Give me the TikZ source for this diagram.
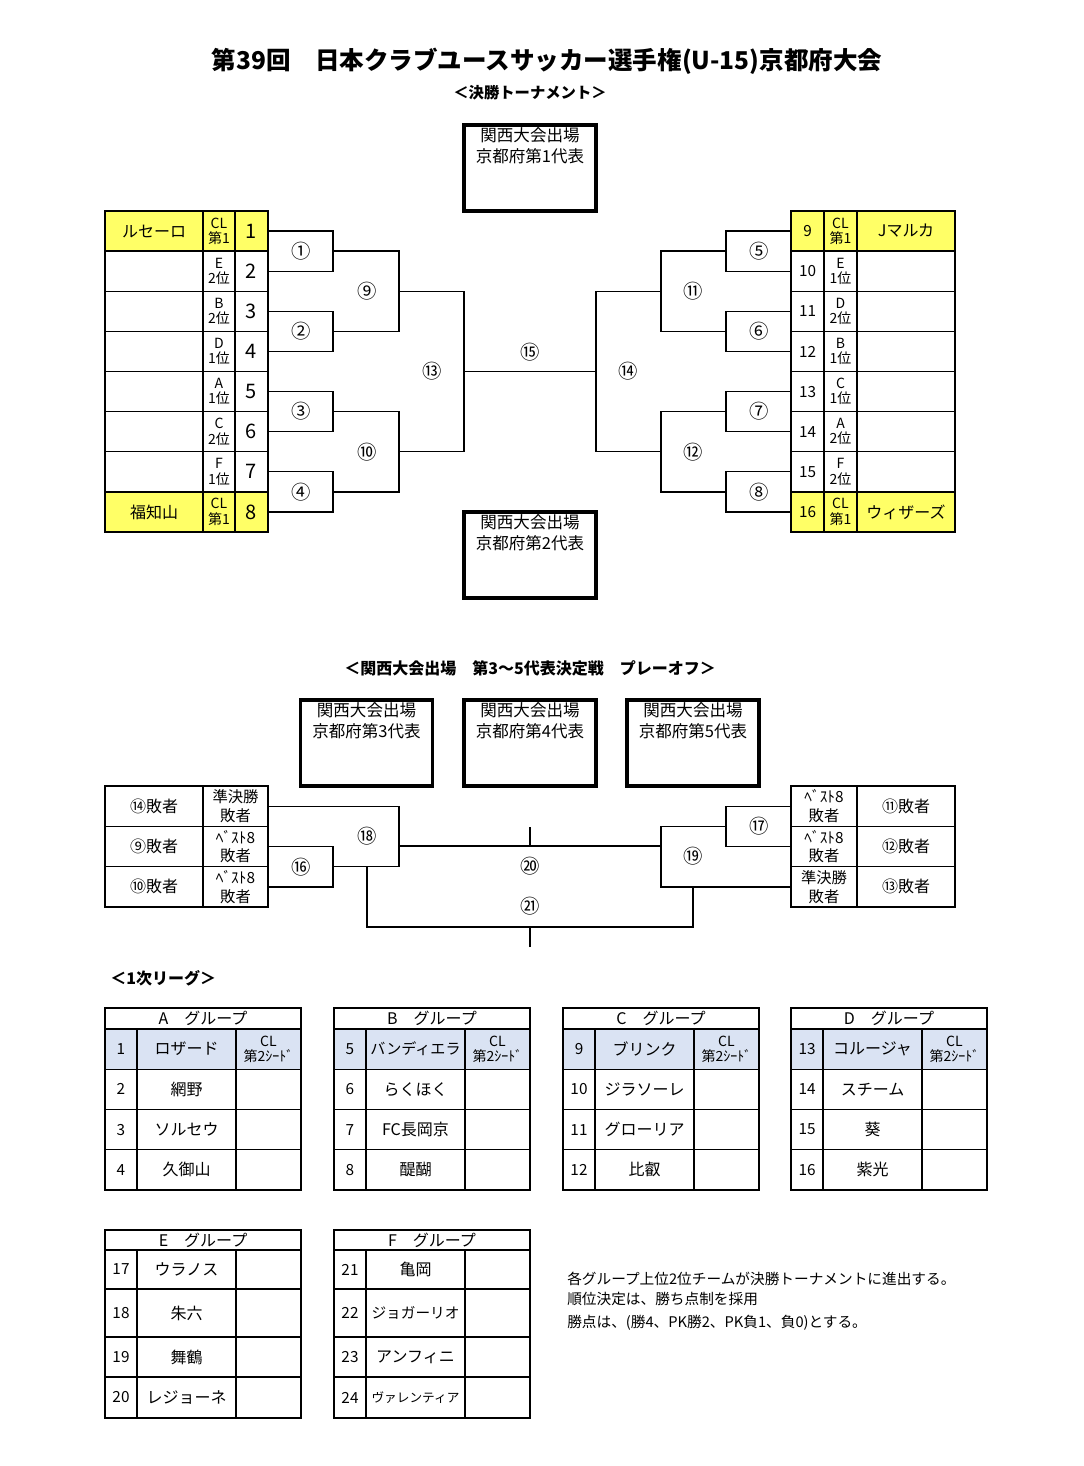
\documentclass[tikz,border=0pt]{standalone}
\usepackage{fontspec}
\setmainfont{Noto Sans CJK JP}
\usetikzlibrary{positioning,calc}

\definecolor{seedyellow}{HTML}{FFFF66}
\definecolor{seedblue}{HTML}{DAE3F3}

\tikzset{
  bracket/.style={line width=1pt},
  grid/.style={line width=1.1pt},
  repbox/.style={line width=2.3pt},
  team/.style={inner sep=0pt, font=\fontsize{12}{14}\selectfont},
  seedno/.style={inner sep=0pt, font=\fontsize{15}{16}\selectfont},
  seednosm/.style={inner sep=0pt, font=\fontsize{11.5}{13}\selectfont},
  grpno/.style={inner sep=0pt, font=\fontsize{11.5}{13}\selectfont},
  slot/.style={inner sep=0pt, align=center, font=\fontsize{10.5}{11.5}\selectfont},
  loser/.style={inner sep=0pt, align=center, font=\fontsize{11.5}{14}\selectfont},
  game/.style={inner sep=0pt, font=\fontsize{14.5}{16}\selectfont},
  reptext/.style={inner sep=0pt, anchor=north, align=center, font=\fontsize{12.4}{15.8}\selectfont},
  heading/.style={inner sep=0pt, font=\bfseries\fontsize{12}{14}\selectfont},
  note/.style={inner sep=0pt, anchor=west, font=\fontsize{11}{13}\selectfont},
}

\begin{document}
\begin{tikzpicture}[x=0.75pt,y=-0.75pt]
\fill[white] (0,0) rectangle (1084,1466);
\useasboundingbox (0,0) rectangle (1084,1466);

% titles
\node[inner sep=0pt, font=\bfseries\fontsize{18.4}{22}\selectfont] (title) at (547,61) {第39回　日本クラブユースサッカー選手権(U-15)京都府大会};
\node[heading, font=\bfseries\fontsize{11.5}{13}\selectfont] (final) at (530,93) {＜決勝トーナメント＞};

% representative boxes
\foreach \nm/\cx/\yt/\k in {rep1/530/125/1, rep2/530/512/2, rep3/366.5/700/3, rep4/530/700/4, rep5/693/700/5} {
  \draw[repbox] ({\cx-66},\yt) rectangle ({\cx+66},{\yt+86});
  \node[reptext] (\nm) at (\cx,{\yt+2}) {関西大会出場\\京都府第\k 代表};
}

% left seeded table
\foreach \i/\tm/\sl/\fc in {1/ルセーロ/CL\\第1/seedyellow, 2//E\\2位/white, 3//B\\2位/white, 4//D\\1位/white, 5//A\\1位/white, 6//C\\2位/white, 7//F\\1位/white, 8/福知山/CL\\第1/seedyellow} {
  \pgfmathsetmacro{\yt}{211+(\i-1)*40.125}
  \pgfmathsetmacro{\yc}{\yt+20.06}
  \filldraw[grid, fill=\fc] (105,\yt) rectangle (268,{\yt+40.125});
  \draw[grid] (203,\yt) -- ++(0,40.125) (235,\yt) -- ++(0,40.125);
  \node[team] (lt\i) at (154,\yc) {\tm};
  \node[slot] (ls\i) at (219,\yc) {\sl};
  \node[seedno] (ln\i) at (251.5,\yc) {\i};
  \coordinate (le\i) at (268,\yc);
}

% right seeded table
\foreach \i/\tm/\sl/\fc in {9/Jマルカ/CL\\第1/seedyellow, 10//E\\1位/white, 11//D\\2位/white, 12//B\\1位/white, 13//C\\1位/white, 14//A\\2位/white, 15//F\\2位/white, 16/ウィザーズ/CL\\第1/seedyellow} {
  \pgfmathsetmacro{\yt}{211+(\i-9)*40.125}
  \pgfmathsetmacro{\yc}{\yt+20.06}
  \filldraw[grid, fill=\fc] (791,\yt) rectangle (955,{\yt+40.125});
  \draw[grid] (824,\yt) -- ++(0,40.125) (857,\yt) -- ++(0,40.125);
  \node[seednosm] (rn\i) at (807.5,\yc) {\i};
  \node[slot] (rs\i) at (840.5,\yc) {\sl};
  \node[team] (rt\i) at (906,\yc) {\tm};
  \coordinate (re\i) at (791,\yc);
}

% first round
\foreach \a/\b/\k/\lab in {1/2/1/①, 3/4/2/②, 5/6/3/③, 7/8/4/④} {
  \draw[bracket] (le\a) -- ++(65,0) |- (le\b);
  \coordinate (lw\k) at ($(le\a)!0.5!(le\b)+(65,0)$);
  \node[game] (lg\k) at ($(lw\k)+(-32,0)$) {\lab};
}
\foreach \a/\b/\k/\lab in {9/10/1/⑤, 11/12/2/⑥, 13/14/3/⑦, 15/16/4/⑧} {
  \draw[bracket] (re\a) -- ++(-65,0) |- (re\b);
  \coordinate (rw\k) at ($(re\a)!0.5!(re\b)+(-65,0)$);
  \node[game] (rg\k) at ($(rw\k)+(33,0)$) {\lab};
}

% quarter finals
\foreach \a/\b/\k/\lab in {1/2/1/⑨, 3/4/2/⑩} {
  \draw[bracket] (lw\a) -- ++(66,0) |- (lw\b);
  \coordinate (lx\k) at ($(lw\a)!0.5!(lw\b)+(66,0)$);
  \node[game] (lq\k) at ($(lx\k)+(-32,0)$) {\lab};
}
\foreach \a/\b/\k/\lab in {1/2/1/⑪, 3/4/2/⑫} {
  \draw[bracket] (rw\a) -- ++(-65,0) |- (rw\b);
  \coordinate (rx\k) at ($(rw\a)!0.5!(rw\b)+(-65,0)$);
  \node[game] (rq\k) at ($(rx\k)+(32,0)$) {\lab};
}

% semi finals and final
\draw[bracket] (lx1) -- ++(65,0) |- (lx2);
\coordinate (ly) at ($(lx1)!0.5!(lx2)+(65,0)$);
\node[game] (semiL) at ($(ly)+(-32,0)$) {⑬};
\draw[bracket] (rx1) -- ++(-65,0) |- (rx2);
\coordinate (ry) at ($(rx1)!0.5!(rx2)+(-65,0)$);
\node[game] (semiR) at ($(ry)+(32,0)$) {⑭};
\draw[bracket] (ly) -- (ry);
\node[game] (fin) at ($(ly)!0.5!(ry)+(0,-19)$) {⑮};

% play-off
\node[heading] (playoff) at (530,668) {＜関西大会出場　第3～5代表決定戦　プレーオフ＞};
\foreach \lt/\st [count=\k] in {⑭敗者/準決勝\\敗者, ⑨敗者/ﾍﾞｽﾄ8\\敗者, ⑩敗者/ﾍﾞｽﾄ8\\敗者} {
  \pgfmathsetmacro{\yt}{786+(\k-1)*40.33}
  \pgfmathsetmacro{\yc}{\yt+20.17}
  \draw[grid] (105,\yt) rectangle (268,{\yt+40.33}) (203,\yt) -- ++(0,40.33);
  \node[team] (pl\k) at (154,\yc) {\lt};
  \node[loser] (ps\k) at (235.5,\yc) {\st};
  \coordinate (pe\k) at (268,\yc);
}
\foreach \st/\lt [count=\k] in {ﾍﾞｽﾄ8\\敗者/⑪敗者, ﾍﾞｽﾄ8\\敗者/⑫敗者, 準決勝\\敗者/⑬敗者} {
  \pgfmathsetmacro{\yt}{786+(\k-1)*40.33}
  \pgfmathsetmacro{\yc}{\yt+20.17}
  \draw[grid] (791,\yt) rectangle (955,{\yt+40.33}) (857,\yt) -- ++(0,40.33);
  \node[loser] (qs\k) at (824,\yc) {\st};
  \node[team] (ql\k) at (906,\yc) {\lt};
  \coordinate (qe\k) at (791,\yc);
}
\draw[bracket] (pe2) -- ++(65,0) |- (pe3);
\coordinate (p16) at ($(pe2)!0.5!(pe3)+(65,0)$);
\node[game] (g16) at ($(p16)+(-32,0)$) {⑯};
\draw[bracket] (pe1) -- ++(131,0) |- (p16);
\node[game] (g18) at (367,836) {⑱};
\draw[bracket] (qe1) -- ++(-65,0) |- (qe2);
\coordinate (p17) at ($(qe1)!0.5!(qe2)+(-65,0)$);
\node[game] (g17) at ($(p17)+(33,0)$) {⑰};
\draw[bracket] (p17) -- ++(-65,0) |- (qe3);
\node[game] (g19) at (693,856) {⑲};
\coordinate (p18) at (399,846);
\coordinate (p19) at (661,846);
\draw[bracket] (p18) -- (p19);
\coordinate (t20) at (530,827);
\draw[bracket] (t20) -- (t20 |- p18);
\node[game] (g20) at (530,866) {⑳};
\coordinate (b18) at (367,866.5);
\coordinate (b19) at (693,887);
\draw[bracket] (b18) -- ++(0,60.5) -| (b19);
\coordinate (t21) at (530,947);
\draw[bracket] (t21) -- ++(0,-20);
\node[game] (g21) at (530,906) {㉑};

% first league
\node[heading, anchor=west] (league) at (110,978) {＜1次リーグ＞};
\foreach \g/\gx/\n/\ta/\tb/\tc/\td in {A/105/1/ロザード/網野/ソルセウ/久御山, B/334/5/{\fontsize{11.3}{12}\selectfont バンディエラ}/らくほく/FC長岡京/醍醐, C/563/9/ブリンク/ジラソーレ/グローリア/比叡, D/791/13/コルージャ/スチーム/葵/紫光} {
  \fill[seedblue] (\gx,1029) rectangle ++(196,40.25);
  \draw[grid] (\gx,1008) rectangle ++(196,182);
  \foreach \yy in {1029,1069.25,1109.5,1149.75} \draw[grid] (\gx,\yy) -- ++(196,0);
  \draw[grid] ({\gx+32},1029) -- ++(0,161) ({\gx+131},1029) -- ++(0,161);
  \node[team] (head\g) at ({\gx+98},1018.5) {\g　グループ};
  \foreach \tm [count=\k from 0] in {\ta,\tb,\tc,\td} {
    \pgfmathtruncatemacro{\num}{\n+\k}
    \pgfmathsetmacro{\yc}{1049.1+\k*40.25}
    \node[grpno] (no\num) at ({\gx+16},\yc) {\num};
    \node[team] (tm\num) at ({\gx+81.5},\yc) {\tm};
  }
  \node[slot] (cl\g) at ({\gx+163.5},1049.1) {CL\\第2ｼｰﾄﾞ};
}
\foreach \g/\gx/\n/\ta/\tb/\tc/\td in {E/105/17/ウラノス/朱六/舞鶴/レジョーネ, F/334/21/亀岡/{\fontsize{11}{12}\selectfont ジョガーリオ}/アンフィニ/{\fontsize{9.5}{11}\selectfont ヴァレンティア}} {
  \draw[grid] (\gx,1230) rectangle ++(196,188);
  \foreach \yy in {1250,1289,1337,1377} \draw[grid] (\gx,\yy) -- ++(196,0);
  \draw[grid] ({\gx+32},1250) -- ++(0,168) ({\gx+131},1250) -- ++(0,168);
  \node[team] (head\g) at ({\gx+98},1240) {\g　グループ};
  \foreach \tm/\yc [count=\k from 0] in {\ta/1269.5,\tb/1313,\tc/1357,\td/1397.5} {
    \pgfmathtruncatemacro{\num}{\n+\k}
    \node[grpno] (no\num) at ({\gx+16},\yc) {\num};
    \node[team] (tm\num) at ({\gx+81.5},\yc) {\tm};
  }
}

% notes
\node[note] (note1) at (567,1279) {各グループ上位2位チームが決勝トーナメントに進出する。};
\node[note] (note2) at (567,1299) {順位決定は、勝ち点制を採用};
\node[note] (note3) at (567,1323) {勝点は、(勝4、PK勝2、PK負1、負0)とする。};
\end{tikzpicture}
\end{document}
